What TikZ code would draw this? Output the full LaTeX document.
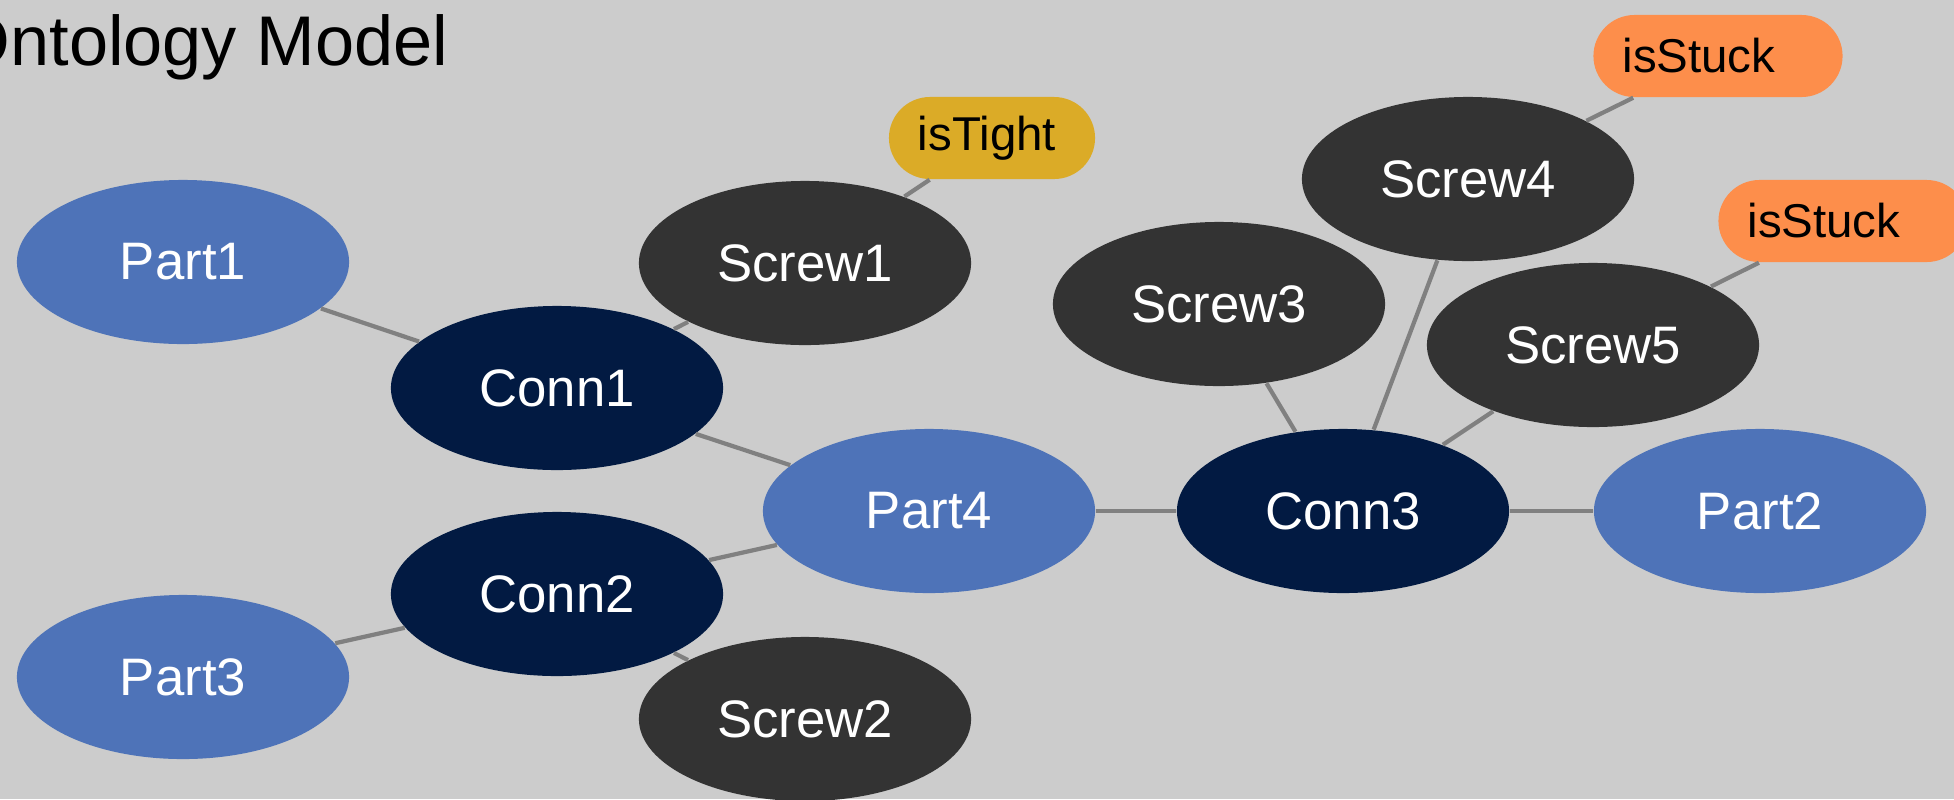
\documentclass[tikz,border=0pt]{standalone}
\usepackage{fontspec}
\setmainfont{Liberation Sans}
\usetikzlibrary{shapes.geometric}
\definecolor{bggray}{HTML}{CCCCCC}
\definecolor{partblue}{HTML}{4E73B8}
\definecolor{connnavy}{HTML}{021A42}
\definecolor{screwgray}{HTML}{333333}
\definecolor{tightgold}{HTML}{DBAB27}
\definecolor{stuckorange}{HTML}{FD8E4B}
\definecolor{edgegray}{HTML}{808080}

\begin{document}
\begin{tikzpicture}[x=0.01cm,y=-0.01cm,
  elem/.style={ellipse,minimum width=3.32cm,minimum height=1.64cm,inner sep=0pt,text=white,font=\fontsize{15}{18}\selectfont},
  part/.style={elem,fill=partblue},
  conn/.style={elem,fill=connnavy},
  screw/.style={elem,fill=screwgray},
  attr/.style={rectangle,rounded corners=0.41cm,minimum height=0.82cm,inner xsep=0.29cm,inner ysep=0pt,align=left,font=\fontsize{13.5}{16}\selectfont},
  link/.style={draw=edgegray,line width=1.2pt}]
\clip (0,0) rectangle (1954,799);
\fill[bggray] (0,0) rectangle (1954,799);

\node (title) [anchor=base east,inner sep=0pt,font=\fontsize{20}{24}\selectfont] at (449,65) {Ontology Model};

% parts and connections
\node (part1) [part] at (183,262) {Part1};
\node (conn1) [conn] at (557,388) {Conn1};
\node (screw1) [screw] at (805,263) {Screw1};
\node (part4) [part] at (929,511) {Part4};
\node (conn2) [conn] at (557,594) {Conn2};
\node (part3) [part] at (183,677) {Part3};
\node (screw2) [screw] at (805,719) {Screw2};
\node (conn3) [conn] at (1343,511) {Conn3};
\node (part2) [part] at (1760,511) {Part2};
\node (screw3) [screw] at (1219,304) {Screw3};
\node (screw4) [screw] at (1468,179) {Screw4};
\node (screw5) [screw] at (1593,345) {Screw5};

% states
\node (tight1) [attr,fill=tightgold,text width=1.48cm] at (992,138) {isTight};
\node (stuck4) [attr,fill=stuckorange,text width=1.91cm] at (1718,56) {isStuck};
\node (stuck5) [attr,fill=stuckorange,text width=1.91cm] at (1843,221) {isStuck};

\draw [link] (part1) -- (conn1);
\draw [link] (conn1) -- (screw1);
\draw [link] (screw1) -- (tight1);
\draw [link] (conn1) -- (part4);
\draw [link] (conn2) -- (part4);
\draw [link] (part3) -- (conn2);
\draw [link] (conn2) -- (screw2);
\draw [link] (part4) -- (conn3);
\draw [link] (conn3) -- (part2);
\draw [link] (conn3) -- (screw3);
\draw [link] (conn3) -- (screw4);
\draw [link] (conn3) -- (screw5);
\draw [link] (screw4) -- (stuck4);
\draw [link] (screw5) -- (stuck5);
\end{tikzpicture}
\end{document}
